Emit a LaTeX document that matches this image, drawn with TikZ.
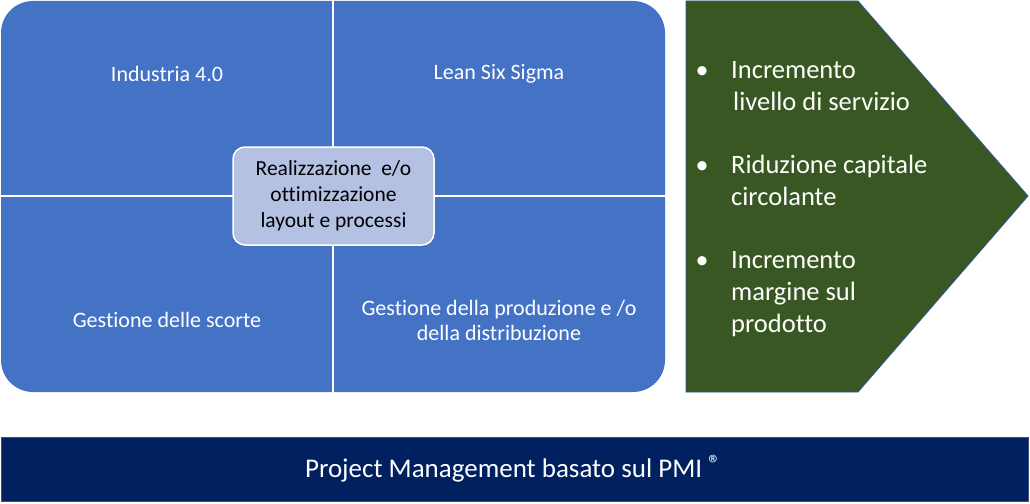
\documentclass[tikz,border=0pt]{standalone}
\usepackage{fontspec}
\setmainfont{Carlito}[Ligatures=NoCommon]
\definecolor{qblue}{HTML}{4472C4}
\definecolor{cblue}{HTML}{B4C1E3}
\definecolor{dgreen}{HTML}{385723}
\definecolor{navy}{HTML}{002060}
\definecolor{edgeblue}{HTML}{2F5597}
\tikzset{
  qtext/.style={text=white, font=\fontsize{22}{25}\selectfont, align=center, inner sep=0pt},
  btext/.style={text=white, font=\fontsize{26.5}{31}\selectfont, anchor=base west, inner sep=0pt},
  bdot/.style={text=white, font=\fontsize{26}{31}\selectfont, anchor=base, inner sep=0pt},
}
\begin{document}
\begin{tikzpicture}[x=1pt,y=-1pt]
\useasboundingbox (0,0) rectangle (1030,503);
% matrix background
\fill[qblue, rounded corners=32pt] (1,1) rectangle (665,392);
\draw[white, line width=1.8pt] (333,0) -- (333,393);
\draw[white, line width=1.8pt] (0,196) -- (666,196);
% quadrant labels
\node[qtext] (q1) at (167,74) {Industria 4.0};
\node[qtext] (q2) at (499,74) {Lean Six Sigma};
\node[qtext] (q3) at (167,320) {Gestione delle scorte};
\node[qtext] (q4) at (499,320) {Gestione della produzione e /o\\della distribuzione};
% center box
\node[draw=white, line width=1.5pt, fill=cblue, rounded corners=12pt,
      minimum width=201pt, minimum height=98pt, inner sep=0pt,
      align=center, font=\fontsize{21.5}{26}\selectfont] (c) at (333.5,196)
      {Realizzazione\ \ e/o\\ottimizzazione\\layout e processi};
% green pentagon
\draw[fill=dgreen, draw=edgeblue, line width=0.8pt]
  (686,1) -- (858,1) -- (1028,196) -- (858,392) -- (686,392) -- cycle;
\node[bdot] (d1) at (702,78) {•};
\node[btext] (b1a) at (731,78) {Incremento};
\node[btext] (b1b) at (733,110) {livello di servizio};
\node[bdot] (d2) at (702,173) {•};
\node[btext] (b2a) at (731,173) {Riduzione capitale};
\node[btext] (b2b) at (731,205) {circolante};
\node[bdot] (d3) at (702,268) {•};
\node[btext] (b3a) at (731,268) {Incremento};
\node[btext] (b3b) at (731,300) {margine sul};
\node[btext] (b3c) at (731,332) {prodotto};
% bottom bar
\draw[fill=navy, draw=edgeblue, line width=0.8pt] (1,437) rectangle (1028,501);
\node[text=white, font=\fontsize{27}{32}\selectfont, inner sep=0pt] (pm) at (513,469)
  {Project Management basato sul PMI \raisebox{0.4ex}{\fontsize{25}{28}\selectfont ®}};
\end{tikzpicture}
\end{document}
